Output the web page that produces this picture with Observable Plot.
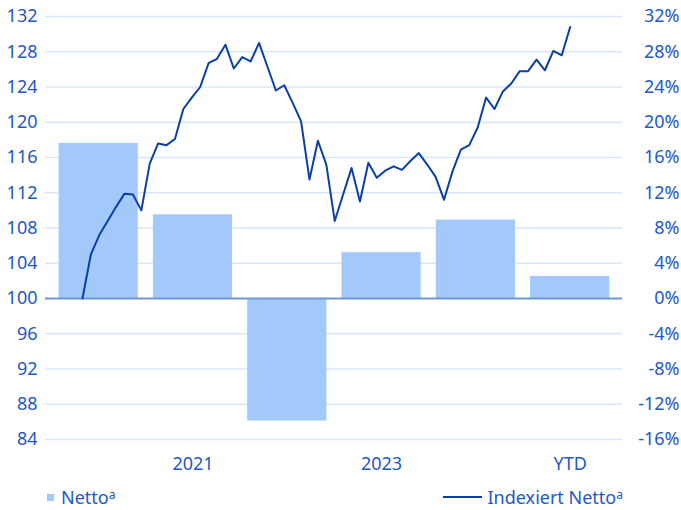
<!DOCTYPE html>
<html>
<head>
<meta charset="utf-8">
<script src="https://cdn.jsdelivr.net/npm/d3@7"></script>
<script src="https://cdn.jsdelivr.net/npm/@observablehq/plot@0.6"></script>
<style>
  html, body { margin: 0; padding: 0; background: #fff; }
  #wrap { width: 681px; font-family: "Noto Sans", sans-serif; color: #2458c4; }
  #legend { position: relative; height: 30px; font-size: 18px; }
  .lg { position: absolute; top: 5px; display: flex; align-items: center; white-space: nowrap; }
  .lg sup { font-size: 12px; vertical-align: 5px; }
  .sq { width: 7px; height: 7px; background: #a3c9fb; margin-right: 7px; }
  .ln { width: 39px; height: 2px; background: #0b3fa6; margin-right: 6px; }
</style>
</head>
<body>
<div id="wrap">
  <div id="chart"></div>
  <div id="legend">
    <div class="lg" style="left:47px"><span class="sq"></span><span>Netto<sup>a</sup></span></div>
    <div class="lg" style="right:58px"><span class="ln"></span><span>Indexiert Netto<sup>a</sup></span></div>
  </div>
</div>
<script>
// Categories (bars) and bar values in percent (right axis)
const years = ["2020", "2021", "2022", "2023", "2024", "YTD"];
const netto = [17.6, 9.5, -13.9, 5.2, 8.9, 2.5];
const xTickYears = ["2021", "2023", "YTD"];

// Indexed net value (left axis), one point per period
const indexed = [
  100.0, 105.0, 107.2, 108.8, 110.4, 111.9, 111.8, 110.0, 115.3, 117.6,
  117.4, 118.1, 121.5, 122.8, 124.0, 126.7, 127.2, 128.8, 126.1, 127.4,
  126.9, 129.0, 126.3, 123.6, 124.2, 122.2, 120.1, 113.5, 117.9, 115.2,
  108.8, 111.8, 114.8, 111.0, 115.4, 113.7, 114.5, 115.0, 114.6, 115.6,
  116.5, 115.2, 113.8, 111.2, 114.4, 116.9, 117.4, 119.4, 122.8, 121.5,
  123.5, 124.4, 125.8, 125.8, 127.1, 125.9, 128.1, 127.6, 130.8
];

const yTicks = [84, 88, 92, 96, 100, 104, 108, 112, 116, 120, 124, 128, 132];

const barData = years.map((y, i) => ({year: y, i, v: netto[i]}));
// line spans from just left of the first bar centre to the YTD centre
const lineStart = -0.172;
const lineEnd = years.indexOf("YTD");
const lineData = indexed.map((v, k) => ({k, v}));
const lineX = d => lineStart + d.k * (lineEnd - lineStart) / (indexed.length - 1);

const textColor = "#2458c4";

const chart = Plot.plot({
  width: 681,
  height: 480,
  marginLeft: 45,
  marginRight: 59,
  marginTop: 16,
  marginBottom: 41,
  style: {fontFamily: "'Noto Sans', sans-serif", fontSize: "18px", color: textColor, background: "white"},
  x: {domain: [-0.564, 5.555]},
  y: {domain: [84, 132]},
  marks: [
    Plot.ruleY(yTicks.filter(d => d !== 100), {stroke: "#d9e7fb", strokeWidth: 1.5}),
    Plot.rect(barData, {x1: d => d.i - 0.42, x2: d => d.i + 0.42, y1: () => 100, y2: d => 100 + d.v, fill: "#a3c9fb"}),
    Plot.ruleY([100], {stroke: "#6f97d6", strokeWidth: 2}),
    Plot.line(lineData, {x: lineX, y: "v", stroke: "#0b3fa6", strokeWidth: 2}),
    Plot.axisY({anchor: "left", ticks: yTicks, tickSize: 0, tickPadding: 8, label: null, tickFormat: d => String(d)}),
    Plot.axisY({anchor: "right", ticks: yTicks, tickSize: 0, tickPadding: 57, textAnchor: "end", label: null, tickFormat: d => (d - 100) + "%"}),
    Plot.axisX({ticks: xTickYears.map(y => years.indexOf(y)), tickSize: 0, tickPadding: 18, label: null, tickFormat: i => years[i]})
  ]
});
document.getElementById("chart").appendChild(chart);
</script>
</body>
</html>
